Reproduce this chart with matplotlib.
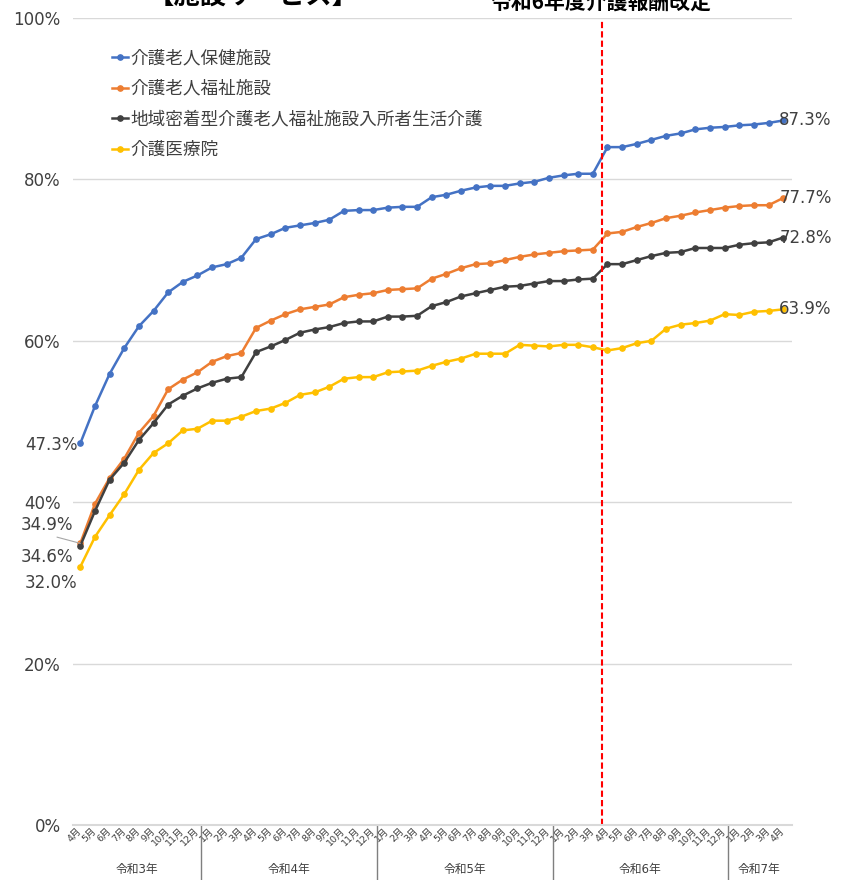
import numpy as np
import matplotlib.pyplot as plt

plt.rcParams['font.family'] = ['DejaVu Sans', 'Noto Sans CJK JP']
plt.rcParams['axes.unicode_minus'] = False

years = ['令和3年', '令和4年', '令和5年', '令和6年', '令和7年']
months = ([f'{m}月' for m in range(4, 13)] + [f'{m}月' for m in range(1, 13)] * 3
          + [f'{m}月' for m in range(1, 5)])

names = ['介護老人保健施設', '介護老人福祉施設',
         '地域密着型介護老人福祉施設入所者生活介護', '介護医療院']

rouken = [47.3, 51.9, 55.9, 59.1, 61.8, 63.7, 66.0, 67.3, 68.1, 69.1, 69.5, 70.3,
          72.6, 73.2, 74.0, 74.3, 74.6, 75.0, 76.1, 76.2, 76.2, 76.5, 76.6, 76.6,
          77.8, 78.1, 78.6, 79.0, 79.2, 79.2, 79.5, 79.7, 80.2, 80.5, 80.7, 80.7,
          84.0, 84.0, 84.4, 84.9, 85.4, 85.7, 86.2, 86.4, 86.5, 86.7, 86.8, 87.0, 87.3]
tokuyou = [34.9, 39.8, 43.0, 45.4, 48.6, 50.7, 54.0, 55.2, 56.1, 57.4, 58.1, 58.5,
           61.6, 62.5, 63.3, 63.9, 64.2, 64.5, 65.4, 65.7, 65.9, 66.3, 66.4, 66.5,
           67.7, 68.3, 69.0, 69.5, 69.6, 70.0, 70.4, 70.7, 70.9, 71.1, 71.2, 71.3,
           73.3, 73.5, 74.1, 74.6, 75.2, 75.5, 75.9, 76.2, 76.5, 76.7, 76.8, 76.8, 77.7]
chiiki = [34.6, 38.9, 42.8, 44.9, 47.7, 49.8, 52.1, 53.2, 54.1, 54.8, 55.3, 55.5,
          58.6, 59.3, 60.1, 61.0, 61.4, 61.7, 62.2, 62.4, 62.4, 63.0, 63.0, 63.1,
          64.3, 64.8, 65.5, 65.9, 66.3, 66.7, 66.8, 67.1, 67.4, 67.4, 67.6, 67.7,
          69.5, 69.5, 70.0, 70.5, 70.9, 71.0, 71.5, 71.5, 71.5, 71.9, 72.1, 72.2, 72.8]
iryouin = [32.0, 35.7, 38.4, 41.0, 44.0, 46.1, 47.3, 48.9, 49.1, 50.1, 50.1, 50.6,
           51.3, 51.6, 52.3, 53.3, 53.6, 54.3, 55.3, 55.5, 55.5, 56.1, 56.2, 56.3,
           56.9, 57.4, 57.8, 58.4, 58.4, 58.4, 59.5, 59.4, 59.3, 59.5, 59.5, 59.2,
           58.8, 59.1, 59.7, 60.0, 61.5, 62.0, 62.2, 62.5, 63.3, 63.2, 63.6, 63.7, 63.9]

series = [rouken, tokuyou, chiiki, iryouin]
colors = ['#4472C4', '#ED7D31', '#404040', '#FFC000']
txt = '#404040'

x = np.arange(len(months))

fig = plt.figure(figsize=(8.46, 8.80), dpi=100)
ax = fig.add_axes([73/846, 55/880, 719/846, 807/880])

for vals, c, n in zip(series, colors, names):
    ax.plot(x, vals, '-o', color=c, lw=1.8, ms=3.8, label=n)

ax.set_xlim(-0.5, 48.6)
ax.set_ylim(0, 100)
ax.set_yticks([0, 20, 40, 60, 80, 100], ['0%', '20%', '40%', '60%', '80%', '100%'])
ax.tick_params(axis='y', length=0, pad=9, labelsize=12, labelcolor=txt)
ax.set_xticks(x, months, rotation=45, ha='right', va='center',
              rotation_mode='anchor', fontsize=6.8, color=txt)
ax.tick_params(axis='x', length=0, pad=3)
ax.yaxis.grid(True, color='#d9d9d9', lw=1)
ax.set_axisbelow(True)
for s in ['top', 'right', 'left']:
    ax.spines[s].set_visible(False)
ax.spines['bottom'].set_color('#d9d9d9')
ax.spines['bottom'].set_linewidth(1.5)

# year groups under the month labels
trans = ax.get_xaxis_transform()
bounds = [-0.5, 8.25, 20.25, 32.25, 44.25, 48.5]
for b in bounds[1:-1]:
    ax.plot([b, b], [0, -0.07], transform=trans, color='#7f7f7f', lw=1, clip_on=False)
for i, y in enumerate(years):
    ax.text((bounds[i] + bounds[i+1]) / 2, -0.055, y, transform=trans,
            ha='center', va='center', fontsize=8.5, color=txt)

# 令和6年度介護報酬改定
ax.axvline(35.6, ymin=0, ymax=0.9975, color='red', ls='--', lw=1.5, dashes=(3, 1.5))

# end labels
for vals in series:
    ax.annotate(f'{vals[-1]:.1f}%', (x[-1], vals[-1]), xytext=(-4, 0),
                textcoords='offset pixels', ha='left', va='center', fontsize=12, color=txt)

# start labels
ax.annotate(f'{rouken[0]:.1f}%', (0, rouken[0]), xytext=(-3, -2), textcoords='offset pixels',
            ha='right', va='center', fontsize=12, color=txt)
ax.annotate(f'{tokuyou[0]:.1f}%', (0, tokuyou[0]), xytext=(-7.5, 18), textcoords='offset pixels',
            ha='right', va='center', fontsize=12, color=txt,
            arrowprops=dict(arrowstyle='-', color='#a6a6a6', lw=0.8, shrinkA=0, shrinkB=0,
                            relpos=(0.5, 0)))
ax.annotate(f'{chiiki[0]:.1f}%', (0, chiiki[0]), xytext=(-7.5, -11), textcoords='offset pixels',
            ha='right', va='center', fontsize=12, color=txt)
ax.annotate(f'{iryouin[0]:.1f}%', (0, iryouin[0]), xytext=(-3.5, -16), textcoords='offset pixels',
            ha='right', va='center', fontsize=12, color=txt)

ax.legend(loc='upper left', bbox_to_anchor=(112/846, 1 - 49/880), bbox_transform=fig.transFigure,
          frameon=False, fontsize=12.7, labelcolor=txt, handlelength=0.9, handletextpad=0.15,
          labelspacing=0.72, borderpad=0, borderaxespad=0)

fig.text(253/846, 1 + 3/880, '【施設サービス】', ha='center', va='center',
         fontsize=19, fontweight='bold', family='Noto Sans CJK JP')
fig.text(601/846, 1 - 3.5/880, '令和6年度介護報酬改定', ha='center', va='center',
         fontsize=15, fontweight='bold', family='Noto Sans CJK JP')

plt.savefig('out.png', dpi=100)
